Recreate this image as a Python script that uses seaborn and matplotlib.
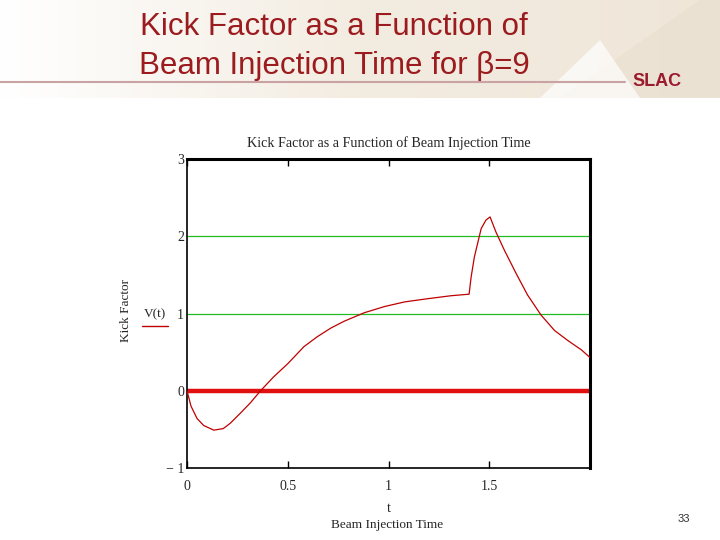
import numpy as np
import pandas as pd
import matplotlib
matplotlib.use("Agg")
import matplotlib.pyplot as plt
from matplotlib.lines import Line2D
from matplotlib.patches import Polygon
import seaborn as sns

# values
t_vals = [0.0, 0.02, 0.05, 0.083, 0.133, 0.18, 0.215, 0.265, 0.315, 0.365, 0.43,
          0.5, 0.58, 0.647, 0.713, 0.78, 0.88, 0.98, 1.08, 1.19, 1.31,
          1.40, 1.41, 1.426, 1.46, 1.484, 1.504, 1.534, 1.575, 1.633, 1.69,
          1.757, 1.824, 1.89, 1.957, 2.0]
v_vals = [0.0, -0.2, -0.36, -0.45, -0.51, -0.49, -0.42, -0.29, -0.155, 0.0, 0.18,
          0.35, 0.57, 0.70, 0.81, 0.90, 1.01, 1.09, 1.15, 1.19, 1.23,
          1.25, 1.47, 1.73, 2.10, 2.21, 2.25, 2.05, 1.82, 1.52, 1.24,
          0.98, 0.78, 0.65, 0.53, 0.43]
zero_t = [0.0, 2.0]
zero_v = [0.0, 0.0]
grid_levels = [1, 2]
x_ticks = [0, 0.5, 1, 1.5]
x_tick_labels = ["0", "0.5", "1", "1.5"]
y_ticks = [-1, 0, 1, 2, 3]
y_tick_labels = ["\u2212 1", "0", "1", "2", "3"]

sns.set_style("white")
plt.rcParams["font.family"] = ["Liberation Serif", "DejaVu Serif"]

df = pd.DataFrame({"t": t_vals, "V": v_vals})
zdf = pd.DataFrame({"t": zero_t, "V": zero_v})

fig = plt.figure(figsize=(7.2, 5.4), dpi=100)
fig.patch.set_facecolor("white")

# slide header band with soft beige gradient
bg = fig.add_axes([0, 0, 1, 1], zorder=-10)
bg.set_xlim(0, 720)
bg.set_ylim(540, 0)
bg.axis("off")
grad = np.linspace(0, 1, 256).reshape(1, -1)
bg.imshow(grad, extent=[0, 720, 98, 0], aspect="auto",
          cmap=matplotlib.colors.LinearSegmentedColormap.from_list(
              "hdr", ["#ffffff", "#f3ece1", "#efe6d8"]))
bg.add_patch(Polygon([[560, 98], [700, 0], [720, 0], [720, 98]],
                     closed=True, color="#e9dfcf", alpha=0.6, lw=0))
bg.add_patch(Polygon([[540, 98], [600, 40], [640, 98]],
                     closed=True, color="#ffffff", alpha=0.7, lw=0))
bg.plot([0, 625], [82, 82], color="#c9a3a3", lw=1.5)

sans = ["Liberation Sans", "DejaVu Sans"]
fig.text(334 / 720, 1 - 35 / 540, "Kick Factor as a Function of",
         ha="center", va="baseline", fontsize=22.5, color="#9b1b1e",
         family=sans)
fig.text(334 / 720, 1 - 74 / 540, "Beam Injection Time for \u03b2=9",
         ha="center", va="baseline", fontsize=22.5, color="#9b1b1e",
         family=sans)
fig.text(657 / 720, 1 - 82 / 540, "SLAC", ha="center", va="center",
         fontsize=13, fontweight="bold", color="#9b1b2e", family=sans)
fig.text(684 / 720, 1 - 519 / 540, "33", ha="center", va="center",
         fontsize=8, color="#333333", family=sans)

ax = fig.add_axes([187 / 720, 1 - 468 / 540, 403 / 720, 309 / 540])
for lv in grid_levels:
    ax.axhline(lv, color="#22bb22", lw=0.9, zorder=1)
sns.lineplot(data=zdf, x="t", y="V", ax=ax, color="#e01010", lw=3.2,
             zorder=2, legend=False)
sns.lineplot(data=df, x="t", y="V", ax=ax, color="#c00000", lw=0.9,
             zorder=3, legend=False)

ax.set_xlim(0, 2)
ax.set_ylim(-1, 3)
ax.set_xticks(x_ticks)
ax.set_xticklabels(x_tick_labels)
ax.set_yticks(y_ticks)
ax.set_yticklabels(y_tick_labels)
ax.tick_params(axis="x", direction="in", length=5, width=1, top=True,
               bottom=True, labelsize=10, pad=9, color="black")
ax.tick_params(axis="y", length=0, labelsize=10, pad=2)
for s in ax.spines.values():
    s.set_visible(True)
    s.set_color("black")
ax.spines["left"].set_linewidth(1.2)
ax.spines["bottom"].set_linewidth(1.2)
ax.spines["right"].set_linewidth(2.2)
ax.spines["top"].set_linewidth(2.2)
ax.set_xlabel("t", fontsize=10, labelpad=6)
ax.set_ylabel("")
ax.set_title("Kick Factor as a Function of Beam Injection Time",
             fontsize=10.2, pad=9)

fig.text(387 / 720, 1 - 525 / 540, "Beam Injection Time", ha="center",
         va="center", fontsize=9.5)
fig.text(126 / 720, 1 - 311 / 540, "Kick Factor", ha="center", va="center",
         rotation=90, fontsize=9.5)
fig.text(155 / 720, 1 - 314 / 540, "V(t)", ha="center", va="center",
         fontsize=9.5)
fig.add_artist(Line2D([142 / 720, 168 / 720], [1 - 326 / 540, 1 - 326 / 540],
                      color="#c00000", lw=1))

fig.savefig("out.png", dpi=100)
